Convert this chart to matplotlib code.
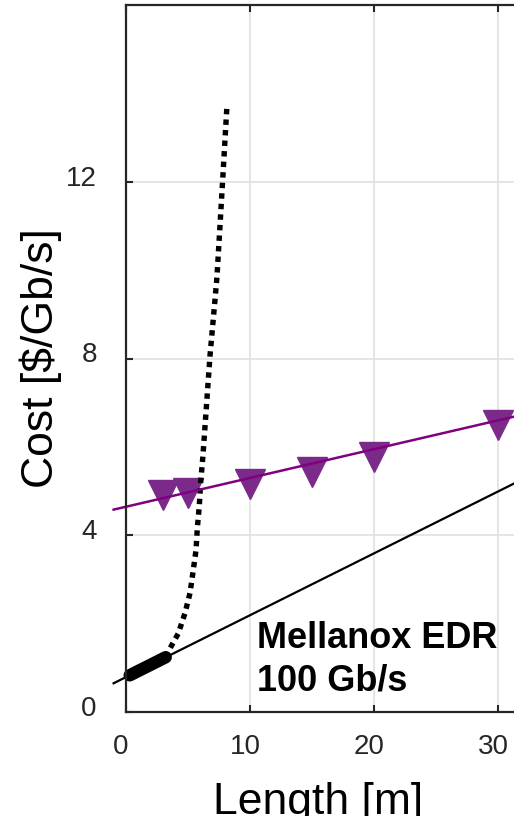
import matplotlib
matplotlib.use("Agg")
import matplotlib.pyplot as plt
from matplotlib.transforms import ScaledTranslation

plt.rcParams['font.family'] = ['Liberation Sans', 'DejaVu Sans']

# ---- data ----
x_ticks = [0, 10, 20, 30]
y_ticks = [0, 4, 8, 12]

# linear fit lines (Mellanox EDR): active optical (purple) and copper trend (black)
fit_x = [-1, 32]
copper_fit_y = [0.65, 5.27]
aoc_fit_y = [4.58, 6.73]

# measured active optical cable costs
aoc_len = [3, 5, 10, 15, 20, 30]
aoc_cost = [4.92, 4.96, 5.15, 5.44, 5.78, 6.50]

# measured passive copper cable costs
cu_len = [0.3, 1, 2, 3.2]
cu_cost = [0.83, 0.93, 1.07, 1.24]

# copper extrapolation (dotted)
ext_len = [3.2, 3.41, 4.22, 4.76, 5.16, 5.43, 5.65, 5.75, 5.91, 6.02, 6.2, 6.77, 7.18, 7.34, 7.8, 8.15]
ext_cost = [1.24, 1.37, 1.78, 2.24, 2.69, 3.22, 3.67, 4.16, 4.66, 5.19, 5.78, 8.05, 9.34, 9.86, 12.06, 13.76]

annotation = "Mellanox EDR\n100 Gb/s"

# ---- figure ----
W, H = 514, 816
fig = plt.figure(figsize=(W / 100, H / 100), dpi=100)
x0_px, x1_px = 126, 126 + 32 * 12.4
ytop_px, ybot_px = 5, 712
ax = fig.add_axes([x0_px / W, (H - ybot_px) / H, (x1_px - x0_px) / W, (ybot_px - ytop_px) / H])
ax.set_xlim(0, 32)
ax.set_ylim(0, 16)

spine_c = '#262626'
for s in ax.spines.values():
    s.set_color(spine_c)
    s.set_linewidth(1.6)
    s.set_zorder(5)

ax.set_xticks(x_ticks)
ax.set_yticks(y_ticks)
ax.grid(True, color='#e3e3e3', linewidth=1.3, zorder=0)
ax.set_axisbelow(True)
ax.tick_params(axis='both', direction='in', length=5, width=1.5, color=spine_c,
               labelsize=20, labelcolor='#262626', top=True, right=True)
ax.tick_params(axis='x', pad=16)
ax.tick_params(axis='y', pad=21)

# lines
ax.plot(fit_x, copper_fit_y, color='black', lw=1.6, clip_on=False, zorder=3)
ax.plot(aoc_len, aoc_cost, linestyle='none', marker='v', ms=21,
        color='#7b2a8a', clip_on=False, zorder=3)
ax.plot(fit_x, aoc_fit_y, color='#800080', lw=1.8, clip_on=False, zorder=4)
ax.plot(ext_len, ext_cost, color='black', lw=3.9, linestyle=(0, (1, 0.95)),
        clip_on=False, zorder=3)
ax.plot(cu_len, cu_cost, color='black', lw=9, solid_capstyle='round',
        clip_on=False, zorder=4)

ax.text(10.6, 0.3, annotation, fontsize=26, fontweight='bold', ha='left', va='bottom',
        linespacing=1.3, zorder=6)

ax.set_ylabel('Cost [$/Gb/s]', fontsize=32)
ax.yaxis.set_label_coords(-0.1605, 0.5)
ax.set_xlabel('Length [m]', fontsize=32)
ax.xaxis.set_label_coords(0.484, -0.0997)

fig.canvas.draw()
for lab in ax.get_xticklabels():
    lab.set_transform(lab.get_transform() + ScaledTranslation(-5 / 100, 0, fig.dpi_scale_trans))
for lab in ax.get_yticklabels():
    lab.set_transform(lab.get_transform() + ScaledTranslation(0, 6 / 100, fig.dpi_scale_trans))

fig.savefig('out.png', dpi=100)
